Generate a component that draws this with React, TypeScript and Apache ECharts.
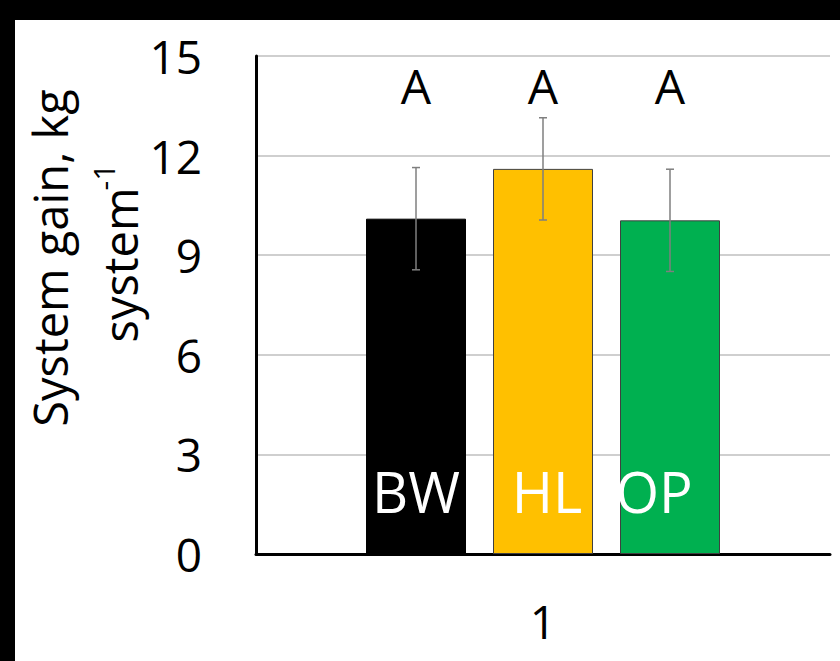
import React, { useEffect, useRef } from "react";
import * as echarts from "echarts";

// Single x category, three treatments drawn side by side
const categories = ["1"];
const groups = ["BW", "HL", "OP"];
const means = [10.1, 11.6, 10.05];
const errors = [1.54, 1.54, 1.54];
const letters = ["A", "A", "A"];
const colors = ["#000000", "#FFC000", "#00B050"];
const borderColors = ["#000000", "#404040", "#404040"];
const labelOffsets = [0, 4, -16];

const BAR_WIDTH = 100;
const BAR_GAP = 0.27;
const LETTER_Y = 14.1;
const FONT = "'Open Sans', 'Noto Sans', sans-serif";

export default function App() {
  const ref = useRef<HTMLDivElement>(null);

  useEffect(() => {
    if (!ref.current) return;
    const chart = echarts.init(ref.current, null, { renderer: "svg" });

    const barSeries = groups.map((g, i) => ({
      type: "bar",
      name: g,
      data: [means[i]],
      barWidth: BAR_WIDTH,
      barGap: `${BAR_GAP * 100}%`,
      itemStyle: { color: colors[i], borderColor: borderColors[i], borderWidth: 1 },
      label: {
        show: true,
        position: "insideBottom",
        distance: 35,
        offset: [labelOffsets[i], 0],
        formatter: "{a}",
        color: "#ffffff",
        fontSize: 56,
        fontFamily: FONT,
      },
      z: 2,
    }));

    // error bars and significance letters, centred over each bar
    const errData = groups.map((_, i) => [0, means[i], errors[i], i]);

    const option = {
      animation: false,
      backgroundColor: "#ffffff",
      grid: { left: 256, right: 10, top: 56, bottom: 107, containLabel: false },
      xAxis: {
        type: "category",
        data: categories,
        axisLine: { show: true, lineStyle: { color: "#000000", width: 3 } },
        axisTick: { show: false },
        axisLabel: { color: "#000000", fontSize: 46, fontFamily: FONT, margin: 44 },
        splitLine: { show: false },
      },
      yAxis: {
        type: "value",
        min: 0,
        max: 15,
        interval: 3,
        axisLine: { show: true, lineStyle: { color: "#000000", width: 3 } },
        axisTick: { show: false },
        axisLabel: { color: "#000000", fontSize: 46, fontFamily: FONT, margin: 54 },
        splitLine: { show: true, lineStyle: { color: "#bfbfbf", width: 1.5 } },
      },
      series: [
        ...barSeries,
        {
          type: "custom",
          data: errData,
          encode: { x: 0, y: 1 },
          z: 5,
          renderItem: (params: any, api: any) => {
            const cat = api.value(0);
            const mean = api.value(1);
            const err = api.value(2);
            const idx = api.value(3);
            const n = groups.length;
            const center = api.coord([cat, 0])[0];
            const total = n * BAR_WIDTH + (n - 1) * BAR_GAP * BAR_WIDTH;
            const x = center - total / 2 + idx * BAR_WIDTH * (1 + BAR_GAP) + BAR_WIDTH / 2;
            const yTop = api.coord([cat, mean + err])[1];
            const yBot = api.coord([cat, mean - err])[1];
            const yL = api.coord([cat, LETTER_Y])[1];
            const stroke = { stroke: "#7f7f7f", lineWidth: 1.5 };
            const cap = 4;
            return {
              type: "group",
              children: [
                { type: "line", shape: { x1: x, y1: yTop, x2: x, y2: yBot }, style: stroke },
                { type: "line", shape: { x1: x - cap, y1: yTop, x2: x + cap, y2: yTop }, style: stroke },
                { type: "line", shape: { x1: x - cap, y1: yBot, x2: x + cap, y2: yBot }, style: stroke },
                {
                  type: "text",
                  x,
                  y: yL,
                  style: {
                    text: letters[idx],
                    fill: "#000000",
                    fontSize: 48,
                    fontFamily: FONT,
                    align: "center",
                    verticalAlign: "middle",
                  },
                },
              ],
            };
          },
        },
      ],
      graphic: [
        { type: "rect", shape: { x: 0, y: 0, width: 840, height: 20 }, style: { fill: "#000000" }, z: 10 },
        { type: "rect", shape: { x: 0, y: 0, width: 15, height: 661 }, style: { fill: "#000000" }, z: 10 },
        {
          type: "text",
          x: 50,
          y: 258,
          rotation: Math.PI / 2,
          style: {
            text: "System gain, kg",
            fill: "#000000",
            fontSize: 47,
            fontFamily: FONT,
            align: "center",
            verticalAlign: "middle",
          },
          z: 10,
        },
        {
          type: "text",
          x: 120,
          y: 265,
          rotation: Math.PI / 2,
          style: {
            text: "system",
            fill: "#000000",
            fontSize: 47,
            fontFamily: FONT,
            align: "center",
            verticalAlign: "middle",
          },
          z: 10,
        },
        {
          type: "text",
          x: 103,
          y: 177,
          rotation: Math.PI / 2,
          style: {
            text: "-1",
            fill: "#000000",
            fontSize: 30,
            fontFamily: FONT,
            align: "center",
            verticalAlign: "middle",
          },
          z: 10,
        },
      ],
    };

    chart.setOption(option as any);
    return () => chart.dispose();
  }, []);

  return (
    <div
      ref={ref}
      style={{ position: "absolute", left: 0, top: 0, width: 840, height: 661, background: "#ffffff" }}
    />
  );
}
